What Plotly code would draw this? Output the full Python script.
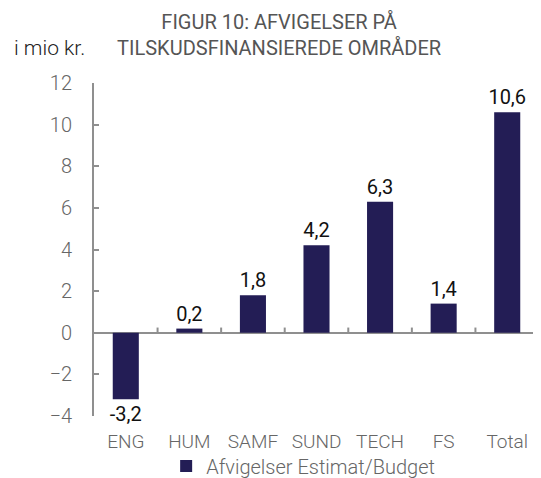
import plotly.graph_objects as go

categories = ["ENG", "HUM", "SAMF", "SUND", "TECH", "FS", "Total"]
values = [-3.2, 0.2, 1.8, 4.2, 6.3, 1.4, 10.6]
series_name = "Afvigelser Estimat/Budget"
y_ticks = [-4, -2, 0, 2, 4, 6, 8, 10, 12]

bar_color = "#231d55"
axis_gray = "#8f8f8f"
label_gray = "#666666"
font_family = "Roboto, 'DejaVu Sans Condensed', sans-serif"
x_range = [-0.5, len(categories) - 0.5]

fig = go.Figure()
fig.add_trace(go.Bar(
    x=categories, y=values, name=series_name,
    marker=dict(color=bar_color, line=dict(width=0)),
    texttemplate="%{y:.1f}", textposition="outside", constraintext="none",
    textfont=dict(color="#111111", size=20, family=font_family),
    cliponaxis=False, showlegend=True,
))

# small tick marks on the zero line between categories
boundary_shapes = [
    dict(type="line", xref="x", yref="y", x0=i + 0.5, x1=i + 0.5, y0=0, y1=0.25,
         line=dict(color=axis_gray, width=2), layer="above")
    for i in range(len(categories) - 1)
]

# page body adds an 8px offset; compensate in size/margins
fig.update_layout(
    width=533, height=470,
    margin=dict(l=86, r=2, t=75, b=62, autoexpand=False),
    paper_bgcolor="white", plot_bgcolor="white",
    separators=",.",
    bargap=0.59,
    font=dict(family=font_family, color=label_gray, size=19),
    title=dict(
        text="FIGUR 10: AFVIGELSER PÅ<br>TILSKUDSFINANSIEREDE OMRÅDER",
        xref="paper", x=0.416, xanchor="center",
        yref="container", y=0.956, yanchor="top",
        font=dict(size=20, color="#555555", family=font_family),
    ),
    xaxis=dict(
        type="category", range=x_range, showline=False, ticks="", showgrid=False,
        zeroline=False, tickfont=dict(size=19, color=label_gray, weight=300),
        ticklabelstandoff=12,
    ),
    yaxis=dict(
        range=[-4, 12], tickvals=y_ticks, showgrid=False,
        zeroline=True, zerolinecolor=axis_gray, zerolinewidth=2,
        showline=True, linecolor=axis_gray, linewidth=2,
        ticks="inside", ticklen=5, tickcolor=axis_gray, tickwidth=2,
        tickfont=dict(size=20, color=label_gray, weight=300),
        ticklabelstandoff=16,
    ),
    shapes=boundary_shapes,
    legend=dict(
        orientation="h", x=0.47, xanchor="center", y=-0.15, yanchor="middle",
        bgcolor="rgba(0,0,0,0)",
        font=dict(size=20, color=label_gray, weight=300), itemwidth=30,
    ),
    annotations=[dict(
        text="i mio kr.", xref="paper", yref="paper", x=-0.184, xanchor="left",
        y=1.105, yanchor="middle", showarrow=False,
        font=dict(size=21, color="#222222", family=font_family, weight=300),
    )],
)

fig.write_html("out.html")
